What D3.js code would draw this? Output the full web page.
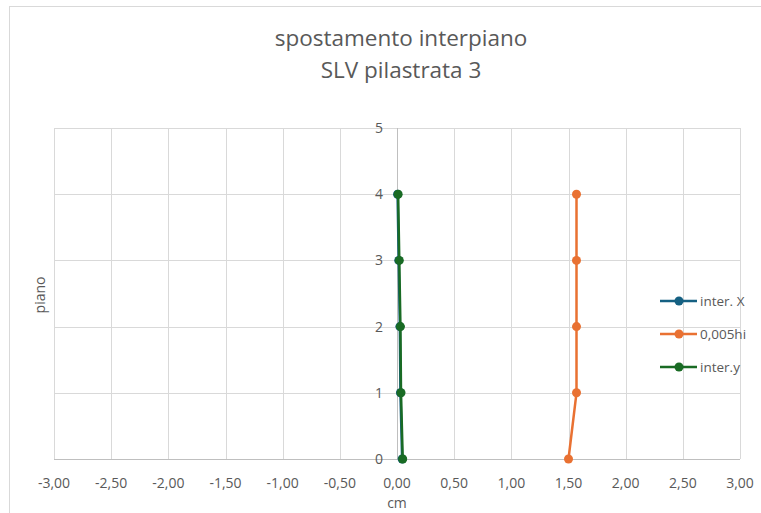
<!DOCTYPE html>
<html>
<head>
<meta charset="utf-8">
<script src="https://cdn.jsdelivr.net/npm/d3@7"></script>
<style>
  html, body { margin: 0; padding: 0; background: #fff; }
  svg { display: block; font-family: "Open Sans", "Liberation Sans", sans-serif; }
</style>
</head>
<body>
<svg id="chart" width="761" height="513"></svg>
<script>
// Storey levels (piano) and interstorey drift values (cm)
const piani = [0, 1, 2, 3, 4];
const interX = [0.045, 0.03, 0.025, 0.015, 0.005];
const limite = [1.50, 1.57, 1.57, 1.57, 1.57];
const interY = [0.05, 0.035, 0.03, 0.02, 0.01];

const xTicks = [-3, -2.5, -2, -1.5, -1, -0.5, 0, 0.5, 1, 1.5, 2, 2.5, 3];
const yTicks = [0, 1, 2, 3, 4, 5];

const seriesNames = ["inter. X", "0,005hi", "inter.y"];
const seriesColors = ["#156082", "#E97132", "#196B24"];
const seriesValues = [interX, limite, interY];

const svg = d3.select("#chart");
const textColor = "#595959";
const gridColor = "#d9d9d9";

// chart frame
svg.append("rect")
  .attr("x", 9.5).attr("y", 6.5)
  .attr("width", 800).attr("height", 600)
  .attr("fill", "none").attr("stroke", "#d9d9d9").attr("stroke-width", 1);

const x = d3.scaleLinear().domain([-3, 3]).range([54, 740]);
const y = d3.scaleLinear().domain([0, 5]).range([459, 128]);

// title
svg.append("text").attr("x", 401).attr("y", 46).attr("text-anchor", "middle")
  .attr("font-size", 22.5).attr("fill", textColor).text("spostamento interpiano");
svg.append("text").attr("x", 401).attr("y", 78).attr("text-anchor", "middle")
  .attr("font-size", 22.5).attr("fill", textColor).text("SLV pilastrata 3");

// vertical gridlines
svg.append("g").selectAll("line").data(xTicks).join("line")
  .attr("x1", d => Math.round(x(d)) + 0.5).attr("x2", d => Math.round(x(d)) + 0.5)
  .attr("y1", y(5)).attr("y2", y(0))
  .attr("stroke", gridColor).attr("stroke-width", 1);

// horizontal gridlines
svg.append("g").selectAll("line").data(yTicks).join("line")
  .attr("y1", d => Math.round(y(d)) + 0.5).attr("y2", d => Math.round(y(d)) + 0.5)
  .attr("x1", x(-3)).attr("x2", x(3))
  .attr("stroke", d => d === 0 ? "#bfbfbf" : gridColor).attr("stroke-width", 1);

// vertical axis at x = 0
svg.append("line")
  .attr("x1", Math.round(x(0)) + 0.5).attr("x2", Math.round(x(0)) + 0.5)
  .attr("y1", y(5)).attr("y2", y(0))
  .attr("stroke", "#bfbfbf").attr("stroke-width", 1);

// x tick labels
const fmt = v => d3.format(".2f")(v).replace(".", ",").replace("−", "-");
svg.append("g").selectAll("text").data(xTicks).join("text")
  .attr("x", d => x(d)).attr("y", 488)
  .attr("text-anchor", "middle").attr("font-size", 14).attr("fill", textColor)
  .text(d => fmt(d));

// y tick labels
svg.append("g").selectAll("text").data(yTicks).join("text")
  .attr("x", x(0) - 14).attr("y", d => y(d) + 5)
  .attr("text-anchor", "end").attr("font-size", 14).attr("fill", textColor)
  .text(d => d);

// axis titles
svg.append("text").attr("x", x(0)).attr("y", 508).attr("text-anchor", "middle")
  .attr("font-size", 14).attr("fill", textColor).text("cm");
svg.append("text").attr("transform", "translate(45,295) rotate(-90)")
  .attr("text-anchor", "middle").attr("font-size", 14).attr("fill", textColor).text("piano");

// series lines and markers
const line = d3.line().x(d => x(d[0])).y(d => y(d[1]));
seriesValues.forEach((vals, i) => {
  const pts = vals.map((v, k) => [v, piani[k]]);
  const g = svg.append("g");
  g.append("path").attr("d", line(pts)).attr("fill", "none")
    .attr("stroke", seriesColors[i]).attr("stroke-width", 2.5).attr("stroke-linejoin", "round");
  g.selectAll("circle").data(pts).join("circle")
    .attr("cx", d => x(d[0])).attr("cy", d => y(d[1])).attr("r", 4.5)
    .attr("fill", seriesColors[i]);
});

// legend
const legend = svg.append("g");
seriesNames.forEach((name, i) => {
  const ly = 301 + i * 33;
  legend.append("line").attr("x1", 660).attr("x2", 697).attr("y1", ly).attr("y2", ly)
    .attr("stroke", seriesColors[i]).attr("stroke-width", 2.5);
  legend.append("circle").attr("cx", 679).attr("cy", ly).attr("r", 4.5).attr("fill", seriesColors[i]);
  legend.append("text").attr("x", 700).attr("y", ly + 5).attr("font-size", 13.5)
    .attr("fill", textColor).text(name);
});
</script>
</body>
</html>
